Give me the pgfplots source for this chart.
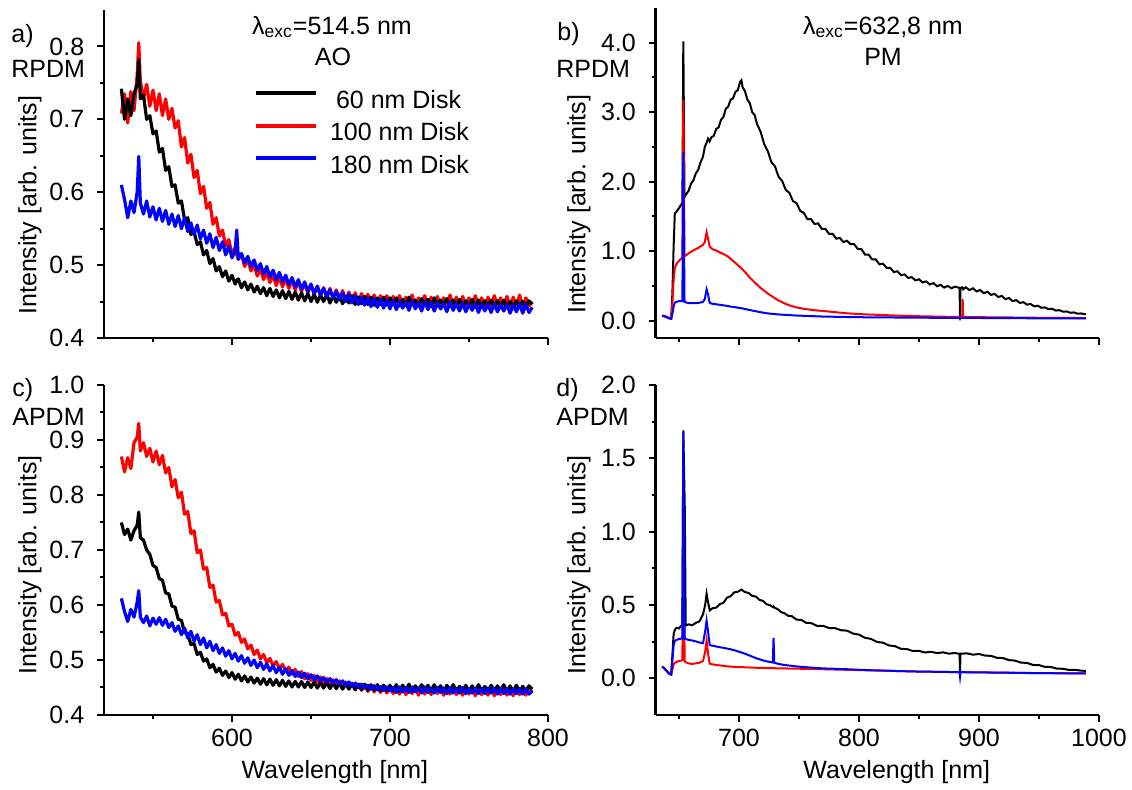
\documentclass[border=0pt]{standalone}
\usepackage{fontspec}
\setmainfont{Liberation Sans}
\usepackage{pgfplots}
\usepackage{pgfplotstable}
\pgfplotsset{compat=1.18}
\newcommand{\fsz}{\fontsize{12.5}{15}\selectfont}
\pgfplotsset{
  panel/.style={
    scale only axis, anchor=south west,
    axis x line*=bottom, axis y line*=left,
    axis line style={line width=1.2pt,-},
    tick align=outside,
    major tick length=3.5pt, minor tick length=2pt,
    tick style={black, line width=1pt},
    tick label style={font=\fsz},
    label style={font=\fsz},
    /pgf/number format/assume math mode=true,
    xticklabel style={/pgf/number format/1000 sep={}},
    yticklabel style={inner sep=1pt, xshift=-5.2pt, /pgf/number format/.cd, fixed, fixed zerofill, precision=1},
    ylabel={Intensity [arb. units]},
  },
  leftx/.style={xmin=519, xmax=800, xtick={600,700,800}, minor xtick={550,650,750}},
  rightx/.style={xmin=630.5, xmax=1000, xtick={700,800,900,1000}, minor xtick={650,750,850,950}},
}
\begin{document}
\pgfplotstableread{
lam K R B
530 0.742 0.708 0.610
532 0.700 0.735 0.590
534 0.728 0.695 0.565
536 0.705 0.738 0.588
538 0.735 0.712 0.572
540 0.748 0.760 0.600
541 0.782 0.805 0.649
542 0.728 0.752 0.585
544 0.733 0.728 0.570
546 0.700 0.748 0.588
548 0.705 0.718 0.566
550 0.680 0.740 0.580
552 0.684 0.712 0.562
554 0.655 0.735 0.578
556 0.660 0.705 0.560
558 0.630 0.728 0.575
560 0.635 0.700 0.556
562 0.608 0.715 0.570
564 0.610 0.688 0.553
566 0.585 0.698 0.568
568 0.588 0.662 0.550
570 0.562 0.675 0.565
572 0.565 0.640 0.546
574 0.542 0.652 0.558
576 0.546 0.620 0.542
578 0.528 0.630 0.555
580 0.532 0.598 0.536
582 0.514 0.608 0.548
584 0.520 0.578 0.530
586 0.502 0.586 0.543
588 0.509 0.556 0.524
590 0.492 0.565 0.538
592 0.498 0.540 0.520
594 0.484 0.548 0.532
596 0.492 0.526 0.514
598 0.478 0.535 0.526
600 0.486 0.515 0.510
602 0.474 0.524 0.520
603 0.479 0.514 0.548
604 0.481 0.508 0.508
606 0.469 0.515 0.516
608 0.477 0.498 0.503
610 0.466 0.508 0.512
612 0.474 0.492 0.498
614 0.463 0.500 0.507
616 0.471 0.485 0.493
618 0.461 0.495 0.502
620 0.469 0.480 0.488
622 0.458 0.490 0.498
624 0.468 0.476 0.484
626 0.457 0.486 0.493
628 0.466 0.472 0.480
630 0.455 0.484 0.490
632 0.465 0.470 0.477
634 0.454 0.481 0.486
636 0.464 0.468 0.473
638 0.453 0.479 0.483
640 0.463 0.466 0.470
642 0.452 0.477 0.480
644 0.462 0.464 0.467
646 0.451 0.475 0.477
648 0.461 0.462 0.464
650 0.450 0.473 0.474
652 0.460 0.460 0.461
654 0.449 0.471 0.471
656 0.459 0.458 0.459
658 0.450 0.469 0.468
660 0.460 0.456 0.457
662 0.448 0.468 0.466
664 0.458 0.455 0.455
666 0.449 0.466 0.464
668 0.459 0.453 0.452
670 0.447 0.465 0.462
672 0.457 0.452 0.450
674 0.448 0.463 0.460
676 0.458 0.450 0.448
678 0.446 0.462 0.458
680 0.456 0.449 0.446
682 0.447 0.461 0.456
684 0.457 0.448 0.445
686 0.446 0.460 0.455
688 0.456 0.447 0.443
690 0.445 0.459 0.454
692 0.455 0.446 0.442
694 0.446 0.458 0.453
696 0.456 0.445 0.441
698 0.445 0.458 0.452
700 0.455 0.445 0.440
702 0.446 0.457 0.451
704 0.455 0.446 0.439
706 0.444 0.458 0.450
708 0.453 0.444 0.441
710 0.445 0.456 0.449
712 0.456 0.445 0.438
714 0.446 0.459 0.451
716 0.452 0.444 0.440
718 0.444 0.455 0.448
720 0.454 0.446 0.437
722 0.445 0.458 0.450
724 0.453 0.443 0.439
726 0.443 0.456 0.449
728 0.455 0.445 0.437
730 0.444 0.457 0.448
732 0.452 0.443 0.440
734 0.445 0.455 0.447
736 0.454 0.446 0.436
738 0.443 0.459 0.449
740 0.452 0.444 0.438
742 0.444 0.456 0.447
744 0.453 0.443 0.437
746 0.443 0.457 0.448
748 0.451 0.444 0.436
750 0.444 0.455 0.446
752 0.453 0.443 0.438
754 0.442 0.458 0.447
756 0.452 0.444 0.435
758 0.443 0.455 0.446
760 0.451 0.442 0.437
762 0.444 0.456 0.446
764 0.452 0.443 0.435
766 0.442 0.458 0.447
768 0.451 0.444 0.436
770 0.443 0.455 0.445
772 0.452 0.442 0.437
774 0.442 0.457 0.446
776 0.450 0.443 0.434
778 0.443 0.456 0.445
780 0.451 0.442 0.436
782 0.442 0.459 0.447
784 0.450 0.443 0.434
786 0.443 0.455 0.446
788 0.451 0.444 0.435
790 0.446 0.450 0.442
}\tabA
\pgfplotstableread{
lam K R B
530 0.750 0.870 0.612
532 0.728 0.842 0.588
534 0.738 0.868 0.570
536 0.718 0.848 0.592
538 0.735 0.895 0.578
540 0.745 0.905 0.605
541 0.769 0.930 0.626
542 0.722 0.880 0.578
544 0.718 0.895 0.568
546 0.700 0.870 0.580
548 0.692 0.885 0.562
550 0.672 0.860 0.576
552 0.668 0.880 0.565
554 0.648 0.855 0.577
556 0.645 0.872 0.563
558 0.622 0.840 0.574
560 0.620 0.850 0.559
562 0.598 0.815 0.568
564 0.596 0.828 0.552
566 0.574 0.795 0.562
568 0.572 0.805 0.546
570 0.550 0.765 0.558
572 0.548 0.770 0.540
574 0.528 0.730 0.552
576 0.530 0.735 0.534
578 0.510 0.695 0.546
580 0.514 0.700 0.528
582 0.498 0.665 0.540
584 0.502 0.668 0.522
586 0.486 0.632 0.534
588 0.492 0.636 0.517
590 0.478 0.605 0.528
592 0.485 0.608 0.512
594 0.472 0.582 0.522
596 0.480 0.585 0.507
598 0.468 0.562 0.517
600 0.477 0.565 0.502
602 0.465 0.545 0.512
604 0.474 0.550 0.498
606 0.462 0.532 0.508
608 0.471 0.538 0.494
610 0.460 0.520 0.504
612 0.469 0.527 0.490
614 0.458 0.510 0.500
616 0.467 0.518 0.486
618 0.456 0.502 0.496
620 0.466 0.510 0.483
622 0.455 0.495 0.493
624 0.465 0.503 0.480
626 0.454 0.489 0.490
628 0.464 0.497 0.477
630 0.453 0.484 0.487
632 0.463 0.492 0.474
634 0.452 0.479 0.484
636 0.462 0.487 0.472
638 0.451 0.474 0.481
640 0.461 0.483 0.470
642 0.451 0.470 0.478
644 0.461 0.479 0.468
646 0.450 0.466 0.476
648 0.460 0.475 0.466
650 0.450 0.463 0.473
652 0.460 0.472 0.464
654 0.449 0.460 0.471
656 0.459 0.469 0.462
658 0.449 0.457 0.468
660 0.459 0.466 0.460
662 0.448 0.455 0.466
664 0.458 0.464 0.458
666 0.448 0.452 0.464
668 0.458 0.462 0.456
670 0.447 0.450 0.462
672 0.457 0.460 0.454
674 0.447 0.448 0.460
676 0.457 0.458 0.452
678 0.446 0.446 0.458
680 0.456 0.456 0.450
682 0.446 0.445 0.456
684 0.456 0.455 0.449
686 0.445 0.443 0.454
688 0.455 0.453 0.447
690 0.445 0.442 0.453
692 0.455 0.452 0.446
694 0.444 0.441 0.452
696 0.454 0.451 0.445
698 0.444 0.440 0.451
700 0.454 0.450 0.444
702 0.444 0.439 0.450
704 0.455 0.450 0.441
706 0.443 0.438 0.451
708 0.454 0.451 0.442
710 0.444 0.437 0.450
712 0.456 0.449 0.441
714 0.443 0.439 0.451
716 0.453 0.451 0.442
718 0.445 0.436 0.449
720 0.455 0.450 0.440
722 0.444 0.438 0.451
724 0.454 0.452 0.441
726 0.443 0.437 0.449
728 0.455 0.449 0.440
730 0.444 0.439 0.450
732 0.453 0.451 0.441
734 0.442 0.436 0.449
736 0.454 0.450 0.439
738 0.443 0.438 0.450
740 0.455 0.452 0.440
742 0.444 0.437 0.448
744 0.452 0.449 0.440
746 0.443 0.436 0.450
748 0.454 0.450 0.439
750 0.442 0.438 0.448
752 0.453 0.451 0.440
754 0.443 0.435 0.449
756 0.455 0.449 0.439
758 0.444 0.437 0.448
760 0.452 0.450 0.439
762 0.442 0.436 0.449
764 0.454 0.451 0.440
766 0.443 0.435 0.448
768 0.453 0.449 0.438
770 0.444 0.437 0.449
772 0.455 0.450 0.439
774 0.442 0.436 0.448
776 0.453 0.449 0.438
778 0.443 0.435 0.447
780 0.454 0.450 0.439
782 0.442 0.437 0.448
784 0.452 0.448 0.438
786 0.444 0.436 0.447
788 0.453 0.449 0.438
790 0.447 0.442 0.444
}\tabC
\pgfplotstableread{
lam K R B
636 0.072 0.072 0.072
638 0.062 0.062 0.062
640 0.048 0.048 0.048
642 0.032 0.032 0.032
643.5 0.028 0.028 0.028
644.5 0.40 0.25 0.10
645.5 1.05 0.58 0.20
646.5 1.54 0.75 0.26
648 1.57 0.82 0.27
650 1.62 0.86 0.28
651.5 1.66 0.89 0.28
652.8 1.70 0.90 0.28
653.6 4.02 3.18 2.43
654.6 1.78 0.93 0.27
656 1.82 0.94 0.26
658 1.87 0.97 0.255
660 1.97 0.99 0.25
662 2.02 1.01 0.25
664 2.12 1.03 0.252
666 2.17 1.045 0.255
668 2.28 1.07 0.26
670 2.36 1.09 0.27
671.5 2.50 1.13 0.31
673 2.56 1.27 0.45
674.2 2.62 1.18 0.38
675.5 2.58 1.07 0.26
677 2.64 1.04 0.245
679 2.66 1.02 0.24
681 2.76 1.01 0.235
683 2.78 0.99 0.23
685 2.89 0.975 0.225
687 2.93 0.96 0.22
689 3.05 0.94 0.215
691 3.08 0.92 0.208
693 3.18 0.89 0.202
695 3.20 0.86 0.197
697 3.29 0.83 0.192
699 3.32 0.80 0.186
701 3.44 0.77 0.181
702 3.46 0.755 0.178
703 3.36 0.735 0.175
705 3.30 0.70 0.166
707 3.18 0.66 0.160
709 3.13 0.62 0.152
711 3.00 0.585 0.145
713 2.96 0.55 0.138
715 2.83 0.52 0.131
718 2.72 0.47 0.121
721 2.54 0.43 0.112
724 2.44 0.39 0.104
727 2.28 0.355 0.098
730 2.22 0.32 0.093
733 2.07 0.29 0.089
736 2.01 0.265 0.085
739 1.88 0.24 0.082
742 1.84 0.22 0.079
745 1.72 0.205 0.076
748 1.69 0.19 0.073
751 1.58 0.18 0.071
754 1.55 0.17 0.069
757 1.46 0.163 0.067
760 1.46 0.156 0.065
763 1.39 0.15 0.063
766 1.40 0.145 0.061
769 1.32 0.14 0.059
772 1.32 0.135 0.058
775 1.25 0.13 0.057
778 1.25 0.125 0.056
781 1.18 0.12 0.055
784 1.19 0.115 0.054
787 1.13 0.11 0.053
790 1.15 0.106 0.052
793 1.10 0.102 0.051
796 1.10 0.099 0.050
799 1.03 0.096 0.050
802 1.03 0.093 0.049
805 0.95 0.090 0.048
808 0.95 0.088 0.048
811 0.88 0.086 0.047
814 0.88 0.084 0.047
817 0.81 0.082 0.046
820 0.82 0.080 0.046
823 0.76 0.078 0.045
826 0.76 0.076 0.045
829 0.70 0.074 0.045
832 0.71 0.072 0.044
835 0.655 0.070 0.044
838 0.665 0.069 0.044
841 0.615 0.067 0.043
844 0.625 0.066 0.043
847 0.58 0.064 0.043
850 0.595 0.063 0.042
853 0.55 0.062 0.042
856 0.565 0.061 0.042
859 0.52 0.060 0.041
862 0.54 0.059 0.041
865 0.495 0.058 0.041
868 0.515 0.057 0.040
871 0.475 0.056 0.040
874 0.50 0.055 0.040
877 0.465 0.054 0.040
880 0.49 0.053 0.039
883.8 0.47 0.052 0.039
884.2 0.04 0.052 0.025
884.6 0.47 0.052 0.039
886.0 0.48 0.052 0.039
886.4 0.47 0.31 0.039
886.8 0.45 0.052 0.039
889 0.48 0.051 0.039
892 0.44 0.051 0.038
895 0.465 0.050 0.038
898 0.42 0.050 0.038
901 0.44 0.049 0.038
904 0.395 0.049 0.037
907 0.415 0.048 0.037
910 0.37 0.048 0.037
913 0.385 0.047 0.037
916 0.34 0.047 0.036
919 0.355 0.046 0.036
922 0.31 0.046 0.036
925 0.325 0.045 0.036
928 0.28 0.045 0.035
931 0.295 0.044 0.035
934 0.255 0.044 0.035
937 0.265 0.043 0.035
940 0.23 0.043 0.034
943 0.24 0.042 0.034
946 0.205 0.042 0.034
949 0.215 0.041 0.034
952 0.185 0.041 0.033
955 0.19 0.040 0.033
958 0.165 0.040 0.033
961 0.17 0.040 0.033
964 0.145 0.039 0.033
967 0.15 0.039 0.032
970 0.128 0.039 0.032
973 0.132 0.038 0.032
976 0.113 0.038 0.032
979 0.118 0.038 0.032
982 0.10 0.037 0.031
985 0.103 0.037 0.031
989 0.09 0.037 0.031
}\tabB
\pgfplotstableread{
lam K R B
636 0.080 0.080 0.080
638 0.066 0.066 0.066
640 0.048 0.048 0.048
642 0.030 0.030 0.030
643.5 0.026 0.026 0.026
644.5 0.16 0.06 0.12
645.5 0.30 0.095 0.225
646.5 0.33 0.105 0.255
648 0.345 0.112 0.262
650 0.34 0.118 0.268
651.5 0.355 0.12 0.27
652.8 0.36 0.125 0.27
653.6 1.69 0.78 1.68
654.8 1.17 0.115 0.27
655.6 0.36 0.11 0.268
658 0.368 0.102 0.262
661 0.362 0.098 0.258
664 0.378 0.102 0.252
667 0.388 0.106 0.244
670 0.435 0.118 0.240
671.8 0.50 0.18 0.32
673 0.577 0.258 0.394
674.2 0.52 0.17 0.32
675.6 0.463 0.10 0.226
678 0.478 0.095 0.222
681 0.482 0.091 0.217
684 0.506 0.088 0.212
687 0.515 0.085 0.208
690 0.55 0.082 0.203
693 0.56 0.080 0.198
696 0.586 0.078 0.192
699 0.59 0.077 0.184
702 0.605 0.076 0.176
705 0.588 0.075 0.168
708 0.582 0.074 0.158
711 0.562 0.073 0.148
714 0.558 0.072 0.138
717 0.535 0.071 0.130
720 0.528 0.071 0.122
723 0.505 0.070 0.116
726 0.498 0.070 0.111
728.2 0.486 0.069 0.108
728.8 0.49 0.069 0.275
729.4 0.482 0.069 0.106
732 0.473 0.068 0.100
735 0.452 0.068 0.095
738 0.443 0.067 0.091
741 0.426 0.067 0.088
744 0.424 0.066 0.085
748 0.400 0.066 0.081
752 0.398 0.065 0.078
756 0.378 0.065 0.076
760 0.377 0.064 0.073
765 0.358 0.063 0.070
770 0.358 0.062 0.068
775 0.343 0.061 0.066
780 0.342 0.060 0.065
785 0.328 0.059 0.063
790 0.325 0.058 0.062
795 0.305 0.057 0.060
800 0.298 0.056 0.058
805 0.276 0.055 0.057
810 0.269 0.054 0.055
815 0.248 0.053 0.054
820 0.243 0.052 0.053
825 0.224 0.051 0.052
830 0.219 0.050 0.050
835 0.201 0.049 0.049
840 0.199 0.048 0.048
845 0.186 0.047 0.047
850 0.187 0.046 0.046
855 0.176 0.045 0.045
860 0.181 0.045 0.045
865 0.172 0.044 0.044
870 0.177 0.044 0.044
875 0.168 0.043 0.043
880 0.173 0.043 0.043
883.8 0.166 0.042 0.042
884.2 0.040 0.042 0.012
884.6 0.168 0.042 0.042
890 0.170 0.042 0.041
895 0.161 0.041 0.041
900 0.166 0.041 0.040
905 0.155 0.040 0.040
910 0.153 0.040 0.039
915 0.140 0.039 0.039
920 0.138 0.039 0.038
925 0.124 0.038 0.038
930 0.121 0.038 0.037
935 0.107 0.037 0.037
940 0.105 0.037 0.036
945 0.091 0.036 0.036
950 0.090 0.036 0.035
955 0.078 0.036 0.035
960 0.077 0.035 0.035
965 0.066 0.035 0.034
970 0.065 0.035 0.034
975 0.057 0.034 0.034
980 0.058 0.034 0.033
985 0.052 0.034 0.033
989 0.051 0.033 0.033
}\tabD
\begin{tikzpicture}
\path[use as bounding box] (0,0) rectangle (566pt,395pt);
% panel a
\begin{axis}[panel, leftx, at={(52pt,226pt)}, width=222pt, height=164pt,
  ymin=0.4, ymax=0.85, ytick={0.4,0.5,0.6,0.7,0.8}, minor ytick={0.45,0.55,0.65,0.75},
  xticklabels={},
  ylabel style={at={(axis description cs:-0.167,0.405)}, anchor=center},
  legend style={at={(axis description cs:0.337,0.756)}, anchor=north west, draw=none, fill=none,
    inner sep=0pt, row sep=7.25pt, column sep=6pt, font=\fsz,
    nodes={inner sep=0pt, text height=9pt, text depth=0pt}},
  legend cell align=left,
  legend image code/.code={\draw[#1, line width=2pt] (0pt,3pt) -- (30pt,3pt);},
]
\addlegendimage{black}\addlegendentry{\hspace{3pt}60 nm Disk}
\addlegendimage{red}\addlegendentry{100 nm Disk}
\addlegendimage{blue}\addlegendentry{180 nm Disk}
\addplot[red, line width=1.6pt, line join=round, forget plot] table[x=lam, y=R] {\tabA};
\addplot[black, line width=1.6pt, line join=round, forget plot] table[x=lam, y=K] {\tabA};
\addplot[blue, line width=1.6pt, line join=round, forget plot] table[x=lam, y=B] {\tabA};
\end{axis}
% panel b
\begin{axis}[panel, rightx, at={(327.8pt,226pt)}, width=221.7pt, height=165pt,
  ymin=-0.25, ymax=4.5, ytick={0,1,2,3,4}, minor ytick={0.5,1.5,2.5,3.5},
  xticklabels={},
  ylabel style={at={(axis description cs:-0.173,0.405)}, anchor=center},
]
\addplot[black, line width=1pt] table[x=lam, y=K] {\tabB};
\addplot[red, line width=1pt] table[x=lam, y=R] {\tabB};
\addplot[blue, line width=1pt] table[x=lam, y=B] {\tabB};
\end{axis}
% panel c
\begin{axis}[panel, leftx, at={(52pt,37.5pt)}, width=222pt, height=165pt,
  ymin=0.4, ymax=1.0, ytick={0.4,0.5,0.6,0.7,0.8,0.9,1.0}, minor ytick={0.45,0.55,0.65,0.75,0.85,0.95},
  xlabel={Wavelength [nm]},
  xlabel style={at={(axis description cs:0.52,0)}, anchor=center, yshift=-28.5pt},
  ylabel style={at={(axis description cs:-0.167,0.455)}, anchor=center},
]
\addplot[red, line width=1.6pt, line join=round] table[x=lam, y=R] {\tabC};
\addplot[black, line width=1.6pt, line join=round] table[x=lam, y=K] {\tabC};
\addplot[blue, line width=1.6pt, line join=round] table[x=lam, y=B] {\tabC};
\end{axis}
% panel d
\begin{axis}[panel, rightx, at={(327.8pt,37.5pt)}, width=221.7pt, height=165pt,
  ymin=-0.25, ymax=2.0, ytick={0,0.5,1,1.5,2}, minor ytick={0.25,0.75,1.25,1.75},
  xlabel={Wavelength [nm]},
  xlabel style={at={(axis description cs:0.544,0)}, anchor=center, yshift=-28.5pt},
  ylabel style={at={(axis description cs:-0.173,0.455)}, anchor=center},
]
\addplot[black, line width=1pt] table[x=lam, y=K] {\tabD};
\addplot[red, line width=1pt] table[x=lam, y=R] {\tabD};
\addplot[blue, line width=1pt] table[x=lam, y=B] {\tabD};
\end{axis}
% panel texts
\node[anchor=west, font=\fsz, inner sep=0pt] at (5.5pt,377pt) {a)};
\node[anchor=west, font=\fsz, inner sep=0pt] at (5.5pt,360.5pt) {RPDM};
\node[anchor=west, font=\fsz, inner sep=0pt] at (278.5pt,378pt) {b)};
\node[anchor=west, font=\fsz, inner sep=0pt] at (278pt,360.5pt) {RPDM};
\node[anchor=west, font=\fsz, inner sep=0pt] at (6pt,200pt) {c)};
\node[anchor=west, font=\fsz, inner sep=0pt] at (6pt,186.7pt) {APDM};
\node[anchor=west, font=\fsz, inner sep=0pt] at (278pt,200pt) {d)};
\node[anchor=west, font=\fsz, inner sep=0pt] at (278pt,186.7pt) {APDM};
\node[font=\fsz, inner sep=0pt] at (166pt,381.5pt) {λ\textsubscript{exc}=514.5 nm};
\node[font=\fsz, inner sep=0pt] at (166.5pt,366.5pt) {AO};
\node[font=\fsz, inner sep=0pt] at (441.5pt,381.5pt) {λ\textsubscript{exc}=632,8 nm};
\node[font=\fsz, inner sep=0pt] at (441.5pt,366.5pt) {PM};
\end{tikzpicture}
\end{document}
